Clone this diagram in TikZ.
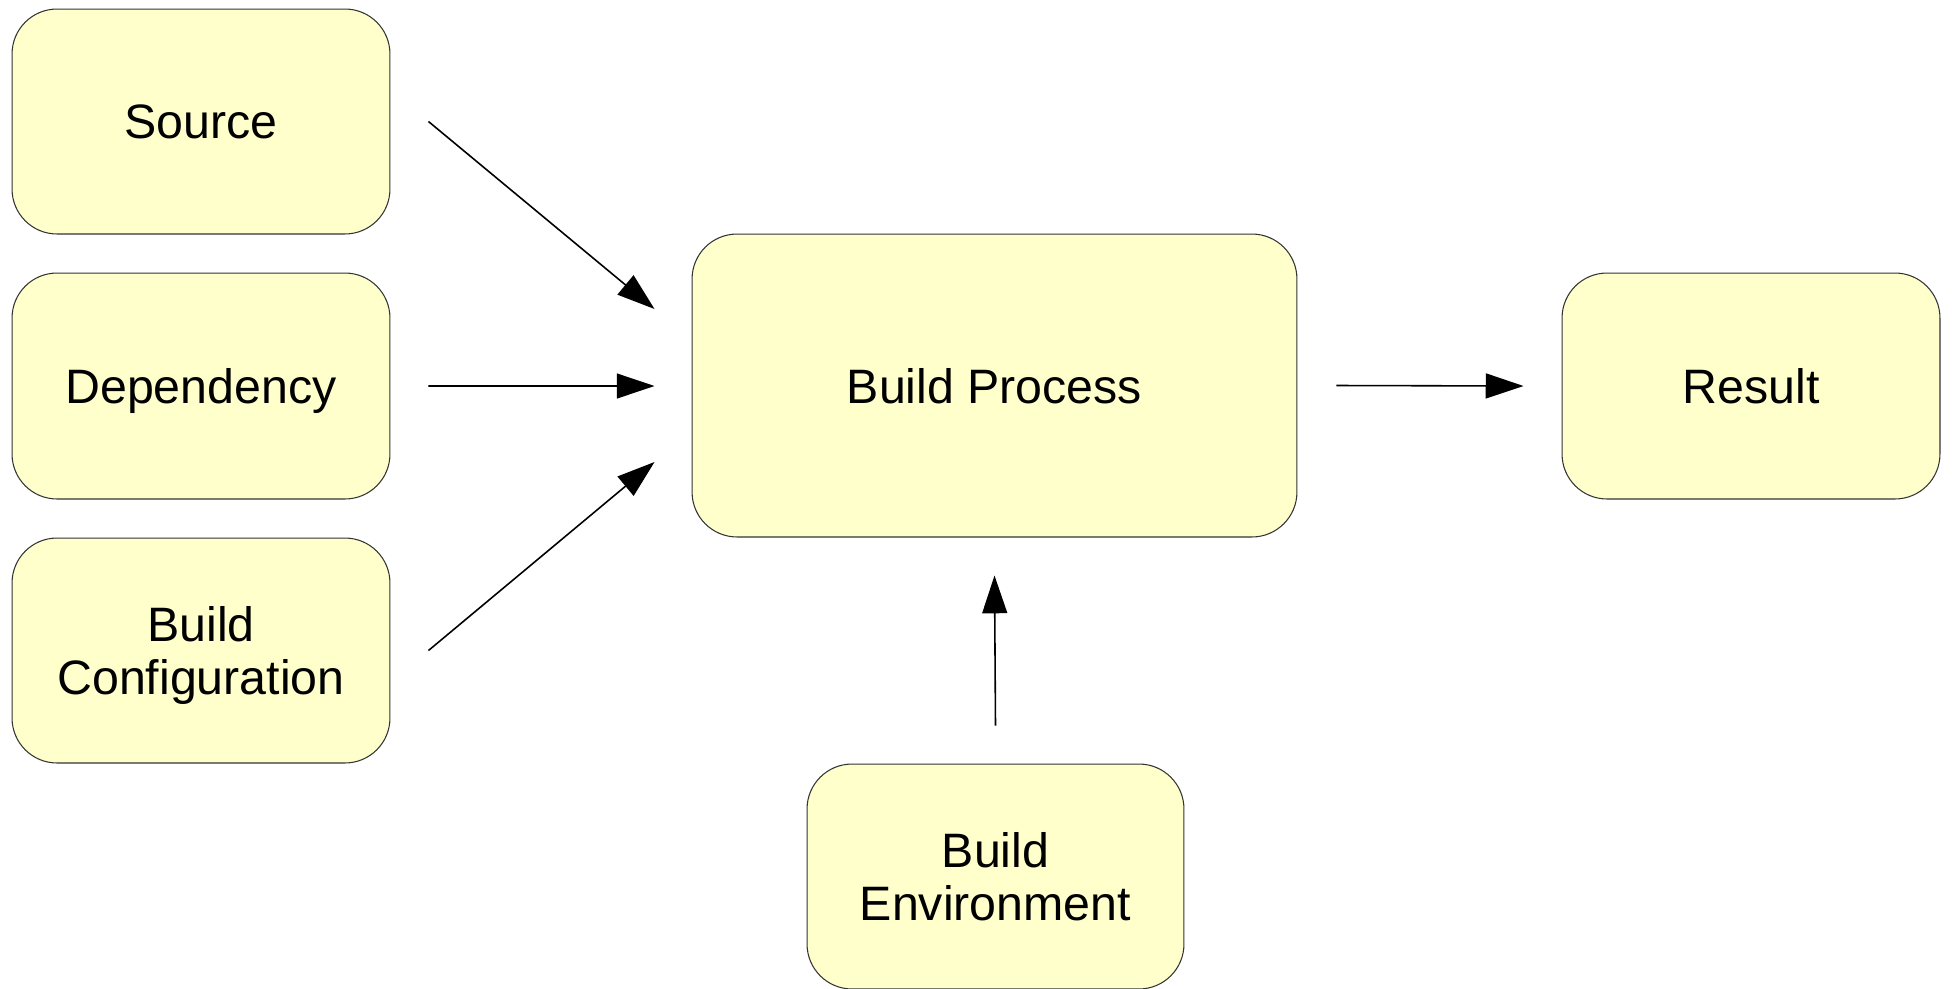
\documentclass[tikz,border=0pt]{standalone}
\usepackage{fontspec}
\setmainfont{Liberation Sans}
\usetikzlibrary{arrows.meta,calc}
\definecolor{boxfill}{HTML}{FFFFCC}
\definecolor{boxline}{HTML}{333333}
\begin{document}
\begin{tikzpicture}[x=0.02cm,y=-0.02cm,
  box/.style={draw=boxline, line width=0.6pt, fill=boxfill, rounded corners=0.9cm,
    align=center, inner sep=0pt, text depth=0pt, font=\fontsize{27.5}{30.6}\selectfont},
  flow/.style={line width=0.9pt, -{Triangle[length=21.5pt,width=14.2pt]}}]
\useasboundingbox (0,0) rectangle (1952,988);

% inputs on the left
\node[box, minimum width=7.56cm, minimum height=4.5cm] (src) at (201,121.5) {Source};
\node[box, minimum width=7.56cm, minimum height=4.52cm] (dep) at (201,386) {Dependency};
\node[box, minimum width=7.56cm, minimum height=4.5cm] (cfg) at (201,650.5) {Build\\Configuration};

% central process, its output and its environment
\node[box, minimum width=12.1cm, minimum height=6.06cm] (bp) at (994.5,385.5) {Build Process};
\node[box, minimum width=7.56cm, minimum height=4.52cm] (res) at (1751,386) {Result};
\node[box, minimum width=7.54cm, minimum height=4.5cm] (env) at (995.5,876.5) {Build\\Environment};

% connectors
\draw[flow] ($(src.east)+(38,0)$) -- ($(bp.west)+(-37,-76.5)$);
\draw[flow] ($(dep.east)+(38,0)$) -- ($(bp.west)+(-37,0.5)$);
\draw[flow] ($(cfg.east)+(38,0)$) -- ($(bp.west)+(-37,76.5)$);
\draw[flow] ($(bp.east)+(39,0)$) -- ($(res.west)+(-38,0)$);
\draw[flow] ($(env.north)+(0,-38)$) -- ($(bp.south)+(0,38)$);
\end{tikzpicture}
\end{document}
